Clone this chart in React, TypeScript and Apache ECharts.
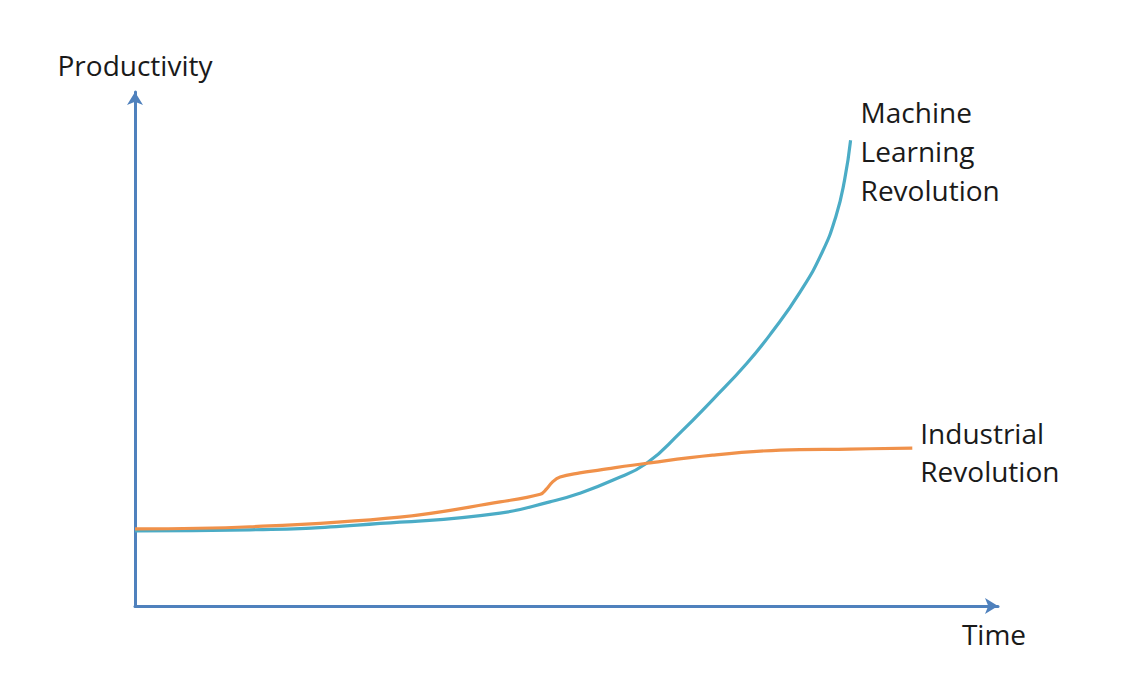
import React, { useEffect, useRef } from "react";
import * as echarts from "echarts";

// Time (x) and productivity (y), in axis units
const mlTime = [0, 13.4, 30.9, 42.6, 48.4, 51.9, 55.8, 59.7, 63.6, 67.4, 71.4, 74.4, 77.6, 80.2, 81.8, 82.8, 83.5];
const mlProductivity = [14.8, 15.0, 16.5, 18.3, 20.5, 22.2, 24.8, 28.1, 34.1, 40.6, 47.8, 54.1, 61.8, 69.7, 76.8, 83.9, 91.7];

const indTime = [0, 13.4, 30.9, 42.6, 47.3, 48.0, 48.7, 49.6, 51.9, 54.3, 59.7, 67.4, 75.3, 83.4, 90.7];
const indProductivity = [15.2, 15.6, 17.5, 20.5, 22.0, 23.0, 24.4, 25.4, 26.2, 26.8, 28.1, 29.7, 30.7, 30.9, 31.1];

const xMax = 100.7;
const yMax = 101.2;

const mlLabel = "Machine\nLearning\nRevolution";
const indLabel = "Industrial\nRevolution";
const xName = "Time";
const yName = "Productivity";

const FONT = "'Open Sans', 'Noto Sans', sans-serif";
const AXIS = "#4F81BD";
const TEAL = "#4BACC6";
const ORANGE = "#F0914A";

export default function App() {
  const ref = useRef<HTMLDivElement>(null);
  useEffect(() => {
    if (!ref.current) return;
    const chart = echarts.init(ref.current, undefined, { renderer: "svg" });
    const axisCommon = {
      type: "value" as const,
      min: 0,
      splitLine: { show: false },
      axisTick: { show: false },
      axisLabel: { show: false },
      axisLine: {
        show: true,
        symbol: ["none", "arrow"],
        symbolSize: [12, 13],
        lineStyle: { color: AXIS, width: 3 },
      },
    };
    chart.setOption({
      animation: false,
      backgroundColor: "#ffffff",
      grid: { left: 135, right: 134, top: 92, bottom: 71, containLabel: false },
      xAxis: {
        ...axisCommon,
        max: xMax,
        name: xName,
        nameLocation: "end",
        nameGap: -4,
        nameTextStyle: {
          fontFamily: FONT,
          fontSize: 28,
          color: "#1a1a1a",
          align: "center",
          verticalAlign: "top",
          padding: [14, 0, 0, 0],
        },
      },
      yAxis: {
        ...axisCommon,
        max: yMax,
        name: yName,
        nameLocation: "end",
        nameGap: 27,
        nameTextStyle: {
          fontFamily: FONT,
          fontSize: 28,
          color: "#1a1a1a",
          align: "center",
          verticalAlign: "middle",
        },
      },
      series: [
        {
          type: "line",
          data: mlTime.map((t, i) => [t, mlProductivity[i]]),
          smooth: 0.5,
          showSymbol: false,
          lineStyle: { color: TEAL, width: 3.2 },
          endLabel: {
            show: true,
            formatter: mlLabel,
            distance: 10,
            offset: [0, 11],
            fontFamily: FONT,
            fontSize: 28,
            lineHeight: 39,
            color: "#1a1a1a",
          },
        },
        {
          type: "line",
          data: indTime.map((t, i) => [t, indProductivity[i]]),
          smooth: 0.4,
          showSymbol: false,
          lineStyle: { color: ORANGE, width: 3.2 },
          endLabel: {
            show: true,
            formatter: indLabel,
            distance: 8,
            offset: [0, 4],
            fontFamily: FONT,
            fontSize: 28,
            lineHeight: 38,
            color: "#1a1a1a",
          },
        },
      ],
    });
    return () => chart.dispose();
  }, []);
  return (
    <div
      ref={ref}
      style={{ position: "fixed", left: 0, top: 0, width: 1132, height: 677, background: "#fff" }}
    />
  );
}
